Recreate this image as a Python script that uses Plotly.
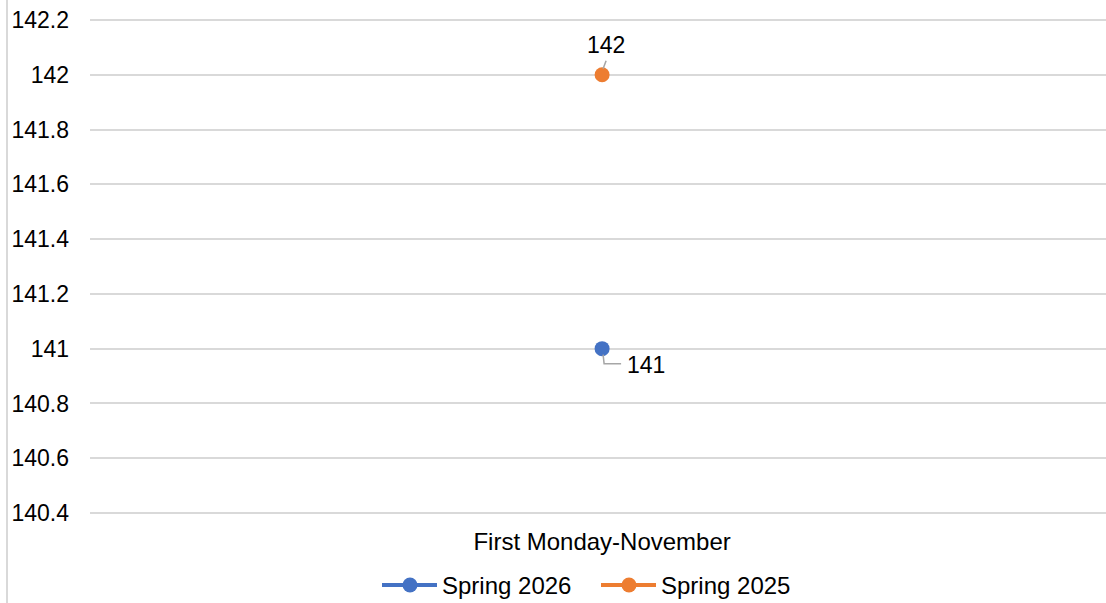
import plotly.graph_objects as go

categories = ["First Monday-November"]
series_names = ["Spring 2026", "Spring 2025"]
spring_2026 = [141]
spring_2025 = [142]
y_ticks = [140.4, 140.6, 140.8, 141, 141.2, 141.4, 141.6, 141.8, 142, 142.2]

BLUE = "#4472C4"
ORANGE = "#ED7D31"
GRID = "#D9D9D9"
FONT = "Liberation Sans, Arial, sans-serif"
FS = 24

# plot area geometry in pixels (used to place decorations in paper coords)
L, T, B = 90, 18, 88
PW, PH = 1106 - L, 603 - T - B
# pad the value range by 2px each side so the outer gridlines are drawn
PAD = 2 * (y_ticks[-1] - y_ticks[0]) / (PH - 4)


def px_x(p):
    return (p - L) / PW


def px_y(p):
    return (603 - B - p) / PH


fig = go.Figure()
for name, vals, col in [(series_names[0], spring_2026, BLUE),
                        (series_names[1], spring_2025, ORANGE)]:
    fig.add_trace(go.Scatter(
        x=[0], y=vals, name=name, mode="lines+markers",
        line=dict(color=col, width=4),
        marker=dict(color=col, size=15),
        hoverinfo="skip", showlegend=False,
    ))

# data labels with leader lines
fig.add_annotation(x=0, y=spring_2025[0], xref="x", yref="y", text=str(spring_2025[0]),
                   showarrow=False, xshift=4, yshift=30,
                   font=dict(family=FONT, size=FS - 1, color="#000000"))
fig.add_annotation(x=0, y=spring_2026[0], xref="x", yref="y", text=str(spring_2026[0]),
                   showarrow=False, xshift=44, yshift=-16,
                   font=dict(family=FONT, size=FS - 1, color="#000000"))

fig.add_shape(type="line", xref="x", yref="y", xsizemode="pixel", ysizemode="pixel",
              xanchor=0, yanchor=spring_2025[0], x0=1, y0=6, x1=4, y1=14,
              line=dict(color="#A6A6A6", width=1.5))
fig.add_shape(type="path", xref="x", yref="y", xsizemode="pixel", ysizemode="pixel",
              xanchor=0, yanchor=spring_2026[0],
              path="M1,-6 L2,-15 L19,-15",
              line=dict(color="#A6A6A6", width=1.5))

# chart border on the left
fig.add_shape(type="line", xref="paper", yref="paper",
              x0=px_x(7), x1=px_x(7), y0=px_y(603), y1=px_y(0),
              line=dict(color=GRID, width=2))

# legend: long line with a centred marker, then the series name
legend_items = [(series_names[0], BLUE, 382), (series_names[1], ORANGE, 601)]
ly = px_y(585)
for name, col, x0 in legend_items:
    fig.add_shape(type="line", xref="paper", yref="paper",
                  x0=px_x(x0), x1=px_x(x0 + 55), y0=ly, y1=ly,
                  line=dict(color=col, width=4))
    fig.add_shape(type="circle", xref="paper", yref="paper",
                  xsizemode="pixel", ysizemode="pixel",
                  xanchor=px_x(x0 + 28), yanchor=ly,
                  x0=-7.5, x1=7.5, y0=-7.5, y1=7.5,
                  fillcolor=col, line=dict(color=col, width=0))
    fig.add_annotation(xref="paper", yref="paper", x=px_x(x0 + 58), y=ly,
                       text=name, showarrow=False, xanchor="left", yanchor="middle",
                       font=dict(family=FONT, size=FS, color="#000000"))

fig.update_layout(
    width=1106, height=603,
    margin=dict(l=L, r=0, t=T, b=B),
    paper_bgcolor="white", plot_bgcolor="white",
    font=dict(family=FONT, size=FS, color="#000000"),
    showlegend=False,
    xaxis=dict(range=[-0.5, 0.492], tickvals=[0], ticktext=categories,
               showgrid=False, zeroline=False, showline=False,
               ticks="", ticklabelstandoff=10, fixedrange=True),
    yaxis=dict(range=[y_ticks[0] - PAD, y_ticks[-1] + PAD], tickvals=y_ticks,
               ticktext=[f"{v:g}" for v in y_ticks],
               tickfont=dict(size=FS - 1),
               showgrid=True, gridcolor=GRID, gridwidth=1.5,
               zeroline=False, showline=False, ticks="",
               ticklabelstandoff=20, fixedrange=True),
)

fig.write_html("out.html")
